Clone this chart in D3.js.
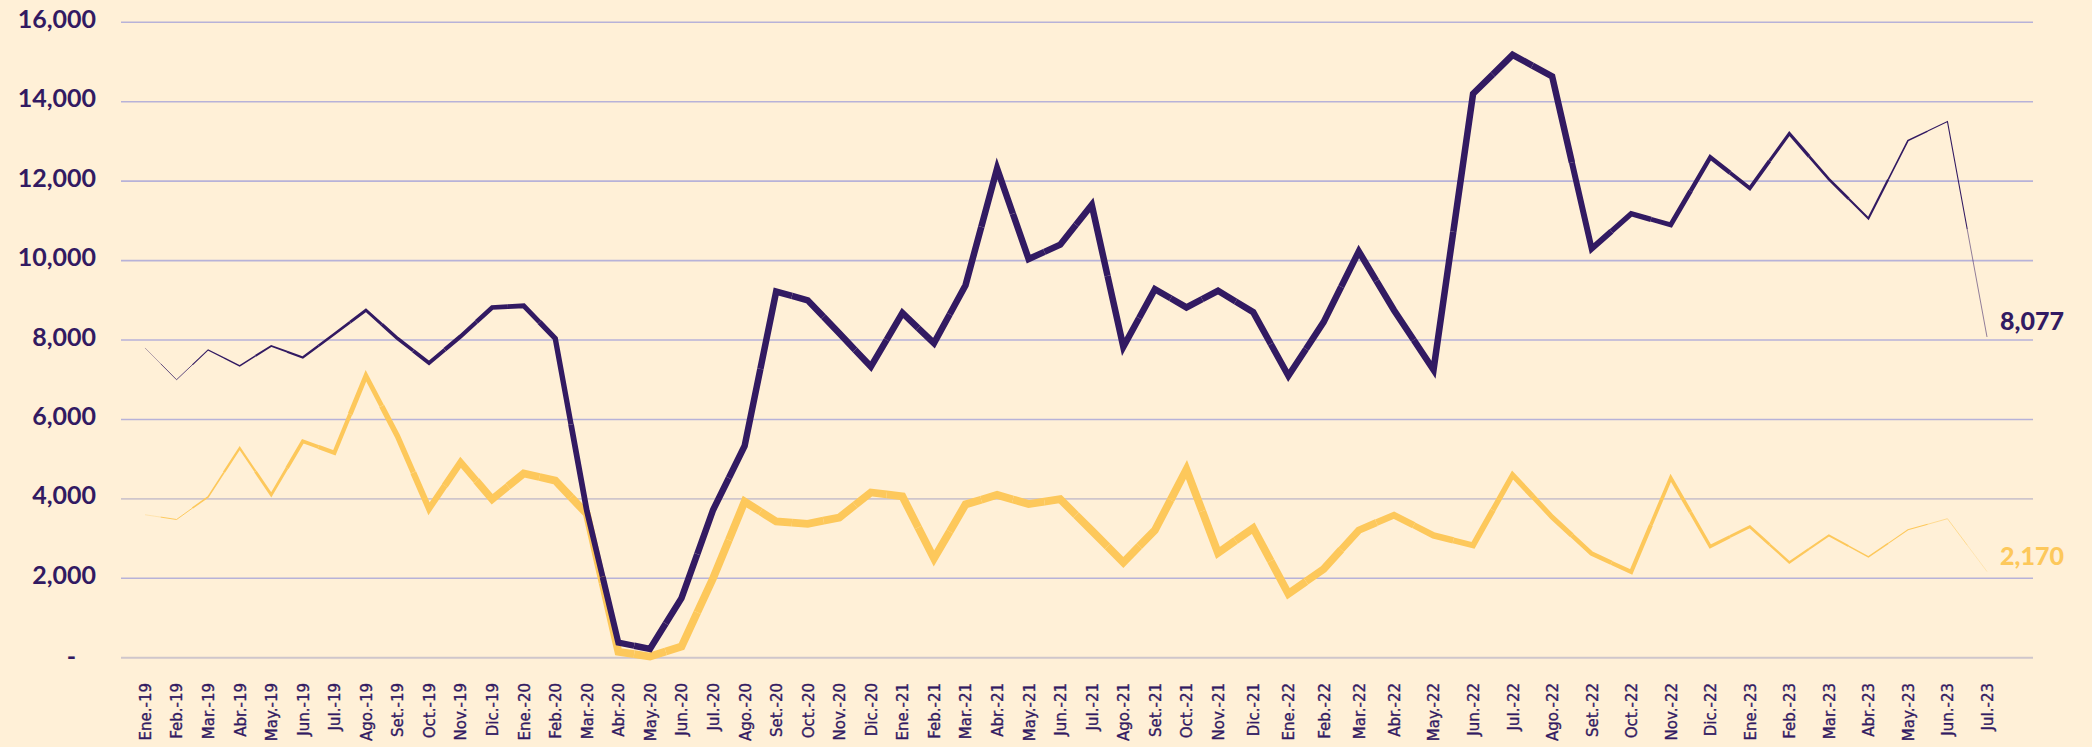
<!DOCTYPE html>
<html>
<head>
<meta charset="utf-8">
<script src="https://cdn.jsdelivr.net/npm/d3@7"></script>
<style>
  html, body { margin: 0; padding: 0; background: #FFF0D7; }
  svg { display: block; }
</style>
</head>
<body>
<svg id="chart" width="2092" height="747"></svg>
<script>
// Month labels, Jan 2019 – Jul 2023
const months = [
  "Ene.-19","Feb.-19","Mar.-19","Abr.-19","May.-19","Jun.-19","Jul.-19","Ago.-19","Set.-19","Oct.-19","Nov.-19","Dic.-19",
  "Ene.-20","Feb.-20","Mar.-20","Abr.-20","May.-20","Jun.-20","Jul.-20","Ago.-20","Set.-20","Oct.-20","Nov.-20","Dic.-20",
  "Ene.-21","Feb.-21","Mar.-21","Abr.-21","May.-21","Jun.-21","Jul.-21","Ago.-21","Set.-21","Oct.-21","Nov.-21","Dic.-21",
  "Ene.-22","Feb.-22","Mar.-22","Abr.-22","May.-22","Jun.-22","Jul.-22","Ago.-22","Set.-22","Oct.-22","Nov.-22","Dic.-22",
  "Ene.-23","Feb.-23","Mar.-23","Abr.-23","May.-23","Jun.-23","Jul.-23"
];

// Upper (purple) series
const purpleValues = [
  7800, 7000, 7750, 7350, 7850, 7560, 8150, 8750, 8040, 7420, 8090, 8820,
  8860, 8040, 3700, 380, 220, 1500, 3720, 5330, 9220, 9000, 8170, 7330,
  8680, 7920, 9380, 12320, 10040, 10400, 11400, 7830, 9280, 8820, 9240, 8700,
  7100, 8450, 10230, 8750, 7250, 14200, 15180, 14640, 10300, 11180, 10900, 12600,
  11820, 13200, 12050, 11060, 13020, 13500, 8077
];

// Lower (yellow) series
const yellowValues = [
  3600, 3480, 4050, 5280, 4100, 5450, 5160, 7100, 5580, 3750, 4920, 3990,
  4640, 4460, 3620, 150, 30, 280, 2000, 3930, 3430, 3370, 3530, 4160,
  4060, 2500, 3860, 4100, 3870, 3990, 3200, 2400, 3210, 4740, 2640, 3260,
  1610, 2230, 3210, 3590, 3080, 2830, 4600, 3540, 2620, 2160, 4530, 2800,
  3300, 2400, 3080, 2540, 3220, 3500, 2170
];

const yTicks = [0, 2000, 4000, 6000, 8000, 10000, 12000, 14000, 16000];

const PURPLE = "#321A62";
const YELLOW = "#FDC85B";

const svg = d3.select("#chart");
svg.append("rect").attr("width", 2092).attr("height", 747).attr("fill", "#FFF0D7");

// Month positions along the axis
const x = d3.scaleLinear()
  .domain([0, 34, 39, months.length - 1])
  .range([145, 1218, 1394, 1987]);

const y = d3.scaleLinear().domain([0, 16000]).range([657.7, 22.3]);

const fmt = d3.format(",");

// Horizontal gridlines
const grid = svg.append("g");
grid.selectAll("line").data(yTicks).join("line")
  .attr("x1", 121).attr("x2", 2033)
  .attr("y1", d => y(d)).attr("y2", d => y(d))
  .attr("stroke", d => (d === 0 || d === 4000) ? "#CFC6CB" : "#B7B2D8")
  .attr("stroke-width", d => d === 0 ? 2 : 1.6);

// Y-axis labels
const yAxis = d3.axisLeft(y).tickValues(yTicks).tickSize(0)
  .tickFormat(d => d === 0 ? "-" : fmt(d));
const yG = svg.append("g").attr("transform", "translate(96,0)").call(yAxis);
yG.select(".domain").remove();
yG.selectAll("text")
  .attr("x", d => d === 0 ? -20 : 0)
  .attr("dy", d => d === 0 ? "0.28em" : "0.2em")
  .attr("fill", PURPLE)
  .style("font-family", "Lato, sans-serif")
  .style("font-weight", 700)
  .style("font-size", "25px");

// X-axis labels (rotated)
const xAxis = d3.axisBottom(x).tickValues(d3.range(months.length)).tickSize(0)
  .tickFormat(i => months[i]);
const xG = svg.append("g").attr("transform", "translate(0,683)").call(xAxis);
xG.select(".domain").remove();
xG.selectAll("text")
  .attr("transform", "rotate(-90)")
  .attr("x", 0).attr("y", 0)
  .attr("dy", "0.36em")
  .attr("text-anchor", "end")
  .attr("fill", PURPLE)
  .style("font-family", "'DejaVu Sans', sans-serif")
  .style("font-size", "15px")
  .style("stroke", PURPLE)
  .style("stroke-width", 0.35);

// Tapered line: each vertex gets its own short stroke (mid-segment to mid-segment)
function taperedLine(values, color, maxW, rampIn, aIn, rampOut, aOut) {
  const n = values.length;
  const pts = values.map((v, i) => [x(i), y(v)]);
  const mid = (a, b) => [(a[0] + b[0]) / 2, (a[1] + b[1]) / 2];
  const width = i => Math.max(0.3, maxW * Math.min(1, (i + aIn) / rampIn, (n - 1 - i + aOut) / rampOut));
  const pieces = pts.map((p, i) => {
    const seg = [];
    if (i > 0) seg.push(mid(pts[i - 1], p));
    seg.push(p);
    if (i < n - 1) seg.push(mid(p, pts[i + 1]));
    return { seg, w: width(i) };
  });
  const line = d3.line();
  svg.append("g").selectAll("path").data(pieces).join("path")
    .attr("d", d => line(d.seg))
    .attr("fill", "none")
    .attr("stroke", color)
    .attr("stroke-width", d => d.w)
    .attr("stroke-linejoin", "miter")
    .attr("stroke-miterlimit", 10)
    .attr("stroke-linecap", "butt");
}

taperedLine(yellowValues, YELLOW, 7.8, 12, 0.5, 17.5, 0.25);
taperedLine(purpleValues, PURPLE, 6.5, 17, 1, 12, 1);

// End-of-line value labels
const last = months.length - 1;
[[purpleValues, PURPLE], [yellowValues, YELLOW]].forEach(([vals, color]) => {
  svg.append("text")
    .attr("x", x(last) + 13)
    .attr("y", y(vals[last]) - 7)
    .attr("fill", color)
    .style("font-family", "Lato, sans-serif")
    .style("font-weight", 900)
    .style("font-size", "25px")
    .text(fmt(vals[last]));
});
</script>
</body>
</html>
